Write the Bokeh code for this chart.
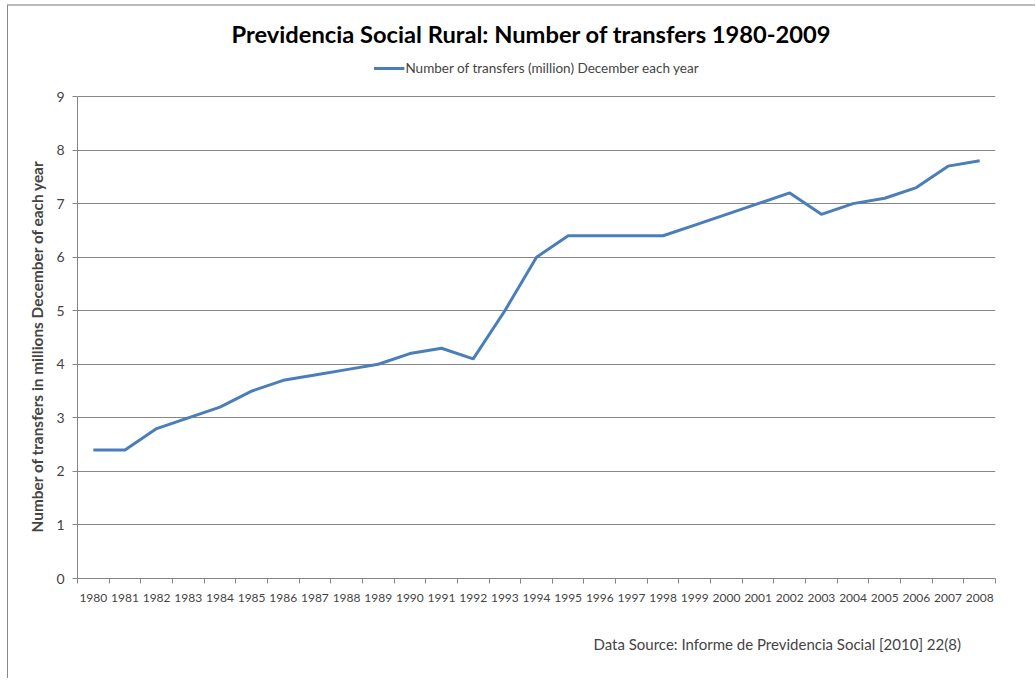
from bokeh.plotting import figure
from bokeh.models import FixedTicker, Legend, LegendItem, Title, Range1d
from bokeh.embed import file_html
from bokeh.resources import INLINE

years = [str(y) for y in range(1980, 2009)]
transfers = [2.4, 2.4, 2.8, 3.0, 3.2, 3.5, 3.7, 3.8, 3.9, 4.0, 4.2, 4.3, 4.1, 5.0, 6.0,
             6.4, 6.4, 6.4, 6.4, 6.6, 6.8, 7.0, 7.2, 6.8, 7.0, 7.1, 7.3, 7.7, 7.8]
y_ticks = list(range(0, 10))

FONT = "Lato"
GRID = "#868686"

xs = list(range(len(years)))

# frame extends slightly above 9 so the legend can sit inside it; axis is bounded to 0..9
p = figure(width=1028, height=674, output_backend="svg", toolbar_location=None,
           x_range=Range1d(-0.5, len(years) - 0.5), y_range=Range1d(0, 9.71),
           min_border_left=69, min_border_right=41, min_border_top=52, min_border_bottom=102,
           title="Previdencia Social Rural: Number of transfers 1980-2009")
p.styles = {"border-left": "1px solid #888888", "border-top": "2px solid #bbbbbb",
            "margin-left": "7px", "margin-top": "4px"}

p.title.align = "left"
p.title.offset = 154
p.title.text_font = FONT
p.title.text_font_size = "23.7px"
p.title.text_font_style = "bold"
p.title.text_color = "#000000"
p.title.standoff = 22

r = p.line(xs, transfers, line_color="#4A7EBB", line_width=3)

legend = Legend(items=[LegendItem(label="Number of transfers (million) December each year", renderers=[r])],
                orientation="horizontal", location="top_center",
                label_text_font=FONT, label_text_font_size="13.5px",
                glyph_width=31, label_standoff=1, border_line_color=None,
                padding=2, margin=0, background_fill_alpha=0)
p.add_layout(legend, "center")

p.outline_line_color = None
p.xgrid.grid_line_color = None
p.ygrid.grid_line_color = GRID
p.ygrid.ticker = FixedTicker(ticks=y_ticks)

p.yaxis.ticker = FixedTicker(ticks=y_ticks)
p.yaxis.bounds = (0, 9)
p.yaxis.axis_line_color = GRID
p.yaxis.major_tick_line_color = GRID
p.yaxis.major_tick_out = 5
p.yaxis.major_tick_in = 0
p.yaxis.minor_tick_line_color = None
p.yaxis.major_label_text_font = FONT
p.yaxis.major_label_text_font_size = "14px"
p.yaxis.major_label_standoff = 8

ylab = Title(text="Number of transfers in millions December of each year",
             align="left", offset=46, standoff=16,
             text_font=FONT, text_font_size="15.4px", text_font_style="bold")
p.add_layout(ylab, "left")

p.xaxis.ticker = FixedTicker(ticks=xs, minor_ticks=[i - 0.5 for i in range(len(years) + 1)])
p.xaxis.major_label_overrides = {i: y for i, y in enumerate(years)}
p.xaxis.axis_line_color = GRID
p.xaxis.major_tick_line_color = None
p.xaxis.major_tick_out = 0
p.xaxis.major_tick_in = 0
p.xaxis.minor_tick_line_color = GRID
p.xaxis.minor_tick_out = 5
p.xaxis.minor_tick_in = 0
p.xaxis.major_label_text_font = FONT
p.xaxis.major_label_text_font_size = "12px"
p.xaxis.major_label_standoff = 10

src = Title(text="Data Source: Informe de Previdencia Social [2010] 22(8)",
            align="left", offset=516, standoff=56,
            text_font=FONT, text_font_size="15px", text_font_style="normal")
p.add_layout(src, "below")

open("out.html", "w").write(file_html(p, INLINE))
